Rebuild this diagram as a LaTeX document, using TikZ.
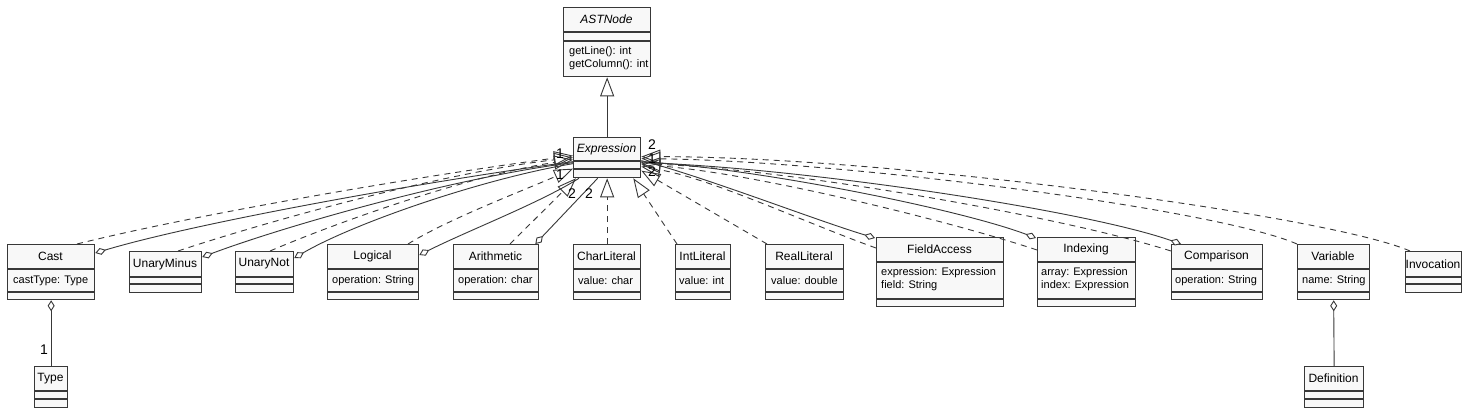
\documentclass[tikz,border=0pt]{standalone}
\usepackage{fontspec}
\setmainfont{Liberation Sans}
\usetikzlibrary{arrows.meta,calc}
\definecolor{lc}{HTML}{383838}
\definecolor{bf}{HTML}{F8F8F8}
\newcommand{\umlcls}[7]{%
  \node[umlbox, minimum width=#4pt, minimum height=#5pt, anchor=north west] (#1) at (#2,#3) {};
  \draw[sepline] ($(#1.north west)+(0,#6)$) -- ($(#1.north east)+(0,#6)$);
  \draw[sepline] ($(#1.north west)+(0,#7)$) -- ($(#1.north east)+(0,#7)$);
}
\begin{document}
\begin{tikzpicture}[x=1pt,y=-1pt,
  umlbox/.style={draw=lc, fill=bf, line width=1.3pt, inner sep=0pt, rectangle},
  sepline/.style={draw=lc, line width=1.3pt},
  cname/.style={font=\fontsize{12}{14}\selectfont, inner sep=0pt},
  iname/.style={font=\fontsize{12}{14}\selectfont\itshape, inner sep=0pt},
  attr/.style={font=\fontsize{11}{13}\selectfont, inner sep=0pt, anchor=west},
  mult/.style={font=\fontsize{14}{16}\selectfont, inner sep=0pt},
  conn/.style={draw=lc, line width=0.9pt},
  real/.style={conn, dash pattern=on 6pt off 5pt, -{Triangle[open, length=19pt, width=14pt]}},
  agg/.style={conn, {Diamond[length=11pt, width=7pt, fill=white]}-},
  gen/.style={conn, -{Triangle[open, length=19pt, width=14pt]}},
]
\fill[white] (0,0) rectangle (1472,413);
\useasboundingbox (0,0) rectangle (1472,413);

% boxes
\umlcls{ast}{563}{7}{87}{69}{25}{34}
\umlcls{expr}{573}{137}{67}{40}{24}{32}
\umlcls{cast}{7}{244}{87}{55}{25}{48}
\umlcls{uminus}{129}{251}{72}{41}{26}{33}
\umlcls{unot}{235}{251}{58}{41}{26}{33}
\umlcls{logical}{327}{244}{91}{55}{25}{48}
\umlcls{arith}{453}{244}{85}{55}{25}{48}
\umlcls{charlit}{573}{244}{67}{55}{25}{48}
\umlcls{intlit}{675}{244}{55}{55}{25}{48}
\umlcls{reallit}{765}{244}{78}{55}{25}{48}
\umlcls{field}{876}{237}{127}{69}{25}{62}
\umlcls{index}{1037}{237}{98}{69}{25}{62}
\umlcls{comp}{1171}{244}{91}{55}{25}{48}
\umlcls{var}{1297}{244}{72}{55}{25}{48}
\umlcls{invoc}{1405}{251}{56}{41}{26}{33}
\umlcls{type}{34}{366}{33}{41}{25}{33}
\umlcls{def}{1304}{366}{59}{41}{25}{33}

% texts
\node[iname] (astN) at (606.5,19.5) {ASTNode};
\node[attr] (astM1) at (569,52) {getLine(): int};
\node[attr] (astM2) at (569,65) {getColumn(): int};
\node[iname] (exprN) at (606.5,149) {Expression};
\node[cname] (castN) at (50.5,256.5) {Cast};
\node[attr] (castA) at (13,280.5) {castType: Type};
\node[cname] (uminusN) at (165,264) {UnaryMinus};
\node[cname] (unotN) at (264,264) {UnaryNot};
\node[cname] (logicalN) at (372.5,256.5) {Logical};
\node[attr] (logicalA) at (332,280.5) {operation: String};
\node[cname] (arithN) at (495.5,256.5) {Arithmetic};
\node[attr] (arithA) at (458,280.5) {operation: char};
\node[cname] (charlitN) at (606.5,256.5) {CharLiteral};
\node[attr] (charlitA) at (578,280.5) {value: char};
\node[cname] (intlitN) at (702.5,256.5) {IntLiteral};
\node[attr] (intlitA) at (679,280.5) {value: int};
\node[cname] (reallitN) at (804,256.5) {RealLiteral};
\node[attr] (reallitA) at (771,280.5) {value: double};
\node[cname] (fieldN) at (939.5,249.5) {FieldAccess};
\node[attr] (fieldA1) at (881,273) {expression: Expression};
\node[attr] (fieldA2) at (881,286) {field: String};
\node[cname] (indexN) at (1086,249.5) {Indexing};
\node[attr] (indexA1) at (1041,273) {array: Expression};
\node[attr] (indexA2) at (1041,286) {index: Expression};
\node[cname] (compN) at (1216.5,256.5) {Comparison};
\node[attr] (compA) at (1175,280.5) {operation: String};
\node[cname] (varN) at (1333,256.5) {Variable};
\node[attr] (varA) at (1302,280.5) {name: String};
\node[cname] (invocN) at (1433,264) {Invocation};
\node[cname] (typeN) at (50.5,378.5) {Type};
\node[cname] (defN) at (1333.5,378.5) {Definition};

% generalization
\draw[gen] (expr.north) -- (ast.south);

% left side
\draw[real] ($(cast.north west)+(70,0)$) .. controls +(120,-30) and +(-150,20) .. ($(expr.west)+(0,-2)$);
\draw[agg] ($(cast.north east)+(0,9)$) .. controls +(100,-30) and +(-150,20) .. ($(expr.west)+(0,4)$);
\draw[real] ($(uminus.north west)+(49,0)$) .. controls +(90,-30) and +(-130,15) .. (expr.west);
\draw[agg] ($(uminus.north east)+(0,6)$) .. controls +(80,-30) and +(-120,15) .. ($(expr.west)+(0,5)$);
\draw[real] ($(unot.north west)+(35,0)$) .. controls +(70,-30) and +(-100,15) .. ($(expr.west)+(0,2)$);
\draw[agg] ($(unot.north east)+(0,7)$) .. controls +(60,-35) and +(-90,15) .. ($(expr.west)+(0,6)$);
\draw[real] ($(logical.north west)+(81,0)$) .. controls +(40,-25) and +(-45,20) .. ($(expr.west)+(0,11)$);
\draw[agg] ($(logical.north east)+(0,11)$) .. controls +(50,-25) and +(-40,25) .. ($(expr.south west)+(6,0)$);
\draw[real] ($(arith.north west)+(57,0)$) -- ($(expr.south west)+(3,0)$);
\draw[agg] ($(arith.north east)+(-4,0)$) -- ($(expr.south)+(-9.5,0)$);
% bottom
\draw[real] (charlit.north) -- (expr.south);
\draw[real] ($(intlit.north west)+(2,0)$) -- ($(expr.south east)+(-8,0)$);
\draw[real] ($(reallit.north west)+(2,0)$) -- ($(expr.east)+(0,13)$);
% right side
\draw[agg] ($(field.north west)+(-1,1)$) .. controls +(-60,-18) and +(60,15) .. ($(expr.east)+(0,3)$);
\draw[real] ($(field.north west)+(0,11)$) .. controls +(-70,-25) and +(70,12) .. ($(expr.east)+(0,9)$);
\draw[agg] ($(index.north west)+(-1,1)$) .. controls +(-80,-30) and +(110,6) .. ($(expr.east)+(0,4)$);
\draw[real] ($(index.north west)+(0,13)$) .. controls +(-90,-30) and +(110,8) .. ($(expr.east)+(0,7)$);
\draw[agg] ($(comp.north west)+(10,0)$) .. controls +(-100,-35) and +(150,4) .. ($(expr.east)+(0,5)$);
\draw[real] ($(comp.north west)+(0,7)$) .. controls +(-110,-35) and +(150,6) .. ($(expr.east)+(0,6)$);
\draw[real] (var.north west) .. controls +(-80,-35) and +(200,2) .. ($(expr.east)+(0,1)$);
\draw[real] ($(invoc.north west)+(5,0)$) .. controls +(-80,-35) and +(250,0) .. ($(expr.east)+(0,-1)$);
% lower associations
\draw[agg] (cast.south) -- (type.north);
\draw[agg] (var.south) -- (def.north);

% multiplicities
\node[mult] (m1) at (560,154) {1};
\node[mult] (m2) at (560,175) {1};
\node[mult] (m3) at (572,194) {2};
\node[mult] (m4) at (589,194) {2};
\node[mult] (m5) at (652,145) {2};
\node[mult] (m6) at (652,158.5) {1};
\node[mult] (m7) at (652,172) {2};
\node[mult] (m8) at (44,350) {1};
\end{tikzpicture}
\end{document}
